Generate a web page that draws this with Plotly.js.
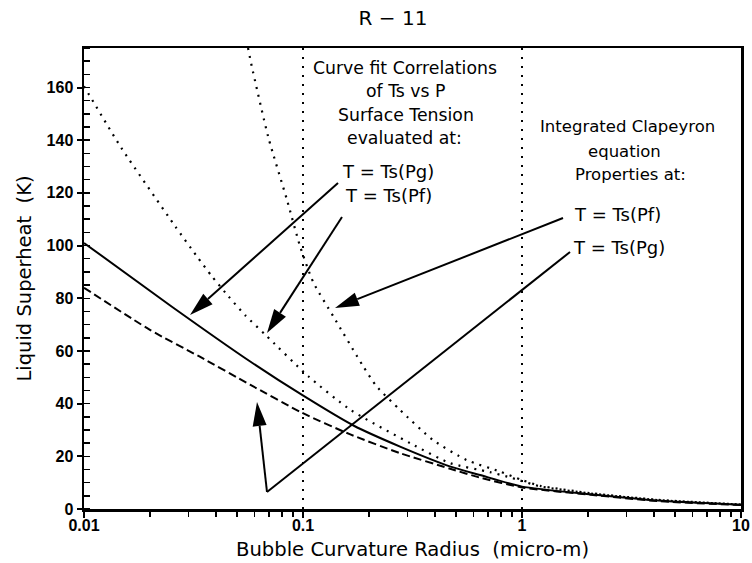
<!DOCTYPE html>
<html>
<head>
<meta charset="utf-8">
<script src="https://cdn.plot.ly/plotly-3.0.1.min.js"></script>
<style>html,body{margin:0;padding:0;background:#fff;}</style>
</head>
<body>
<div id="chart" style="width:752px;height:563px;"></div>
<script>
// ---- axis ticks ----
const xTickVals = [0.01, 0.1, 1, 10];
const xTickText = ['0.01', '0.1', '1', '10'];
const xMinorVals = [0.02,0.03,0.04,0.05,0.06,0.07,0.08,0.09,
                    0.2,0.3,0.4,0.5,0.6,0.7,0.8,0.9,
                    2,3,4,5,6,7,8,9];
const yTickVals = [0, 20, 40, 60, 80, 100, 120, 140, 160];
const yTickText = ['0', '20', '40', '60', '80', '100', '120', '140', '160'];

// ---- series ----
// Curve fit correlation, T = Ts(Pg)  (solid)
const fitPgX = [0.01, 0.0252, 0.0574, 0.099, 0.17, 0.2774, 0.472, 0.643, 1, 2.06, 4.16, 10];
const fitPgY = [101, 76.8, 56.0, 43.3, 31.7, 23.7, 16.1, 12.9, 8.5, 5.6, 3.2, 1.6];
// Curve fit correlation, T = Ts(Pf)  (dotted)
const fitPfX = [0.01, 0.0148, 0.0261, 0.0327, 0.0384, 0.0457, 0.0545, 0.0672, 0.106, 0.165, 0.31, 0.47, 0.714, 0.898, 1.21, 2.06, 4.16, 10];
const fitPfY = [160.5, 137.1, 107.3, 96.0, 88.3, 80.7, 73.5, 66.2, 50.3, 37.6, 24.9, 17.4, 14.0, 11.8, 8.6, 5.9, 3.4, 1.7];
// Integrated Clapeyron, T = Ts(Pf)  (steep dotted)
const clapPfX = [0.0561, 0.0583, 0.0695, 0.0844, 0.097, 0.1115, 0.1376, 0.1885, 0.2172, 0.2774, 0.392, 0.558, 0.795, 1.0, 1.21, 2.06, 4.16, 10];
const clapPfY = [175, 168.2, 141.0, 117.5, 99.7, 86.0, 73.1, 54.1, 46.5, 37.6, 26.2, 18.6, 14.2, 11.0, 8.8, 6.0, 3.5, 1.7];
// Integrated Clapeyron, T = Ts(Pg)  (dashed)
const clapPgX = [0.01, 0.02, 0.0338, 0.0573, 0.0986, 0.1634, 0.2774, 0.4696, 0.643, 1, 2.06, 4.16, 10];
const clapPgY = [84, 68.0, 57.8, 47.2, 36.6, 28.4, 21.2, 15.3, 11.9, 8.2, 5.4, 3.0, 1.5];

// ---- geometry helpers (layout only) ----
const FW = 752, FH = 563;
const M = {l: 84, r: 11, t: 48, b: 54};
const PW = FW - M.l - M.r, PH = FH - M.t - M.b;
const px2x = p => (p - M.l) / PW;
const py2y = p => (FH - M.b - p) / PH;

const TXT = 'DejaVu Sans';
function label(text, cx, cy, size) {
  return {text: text, x: px2x(cx), y: py2y(cy), xref: 'paper', yref: 'paper',
          xanchor: 'center', yanchor: 'middle', showarrow: false,
          font: {family: TXT, size: size || 16.5, color: '#000'}};
}
const shapes = [];
function seg(a, b) {
  shapes.push({type: 'line', xref: 'paper', yref: 'paper',
    x0: px2x(a[0]), y0: py2y(a[1]), x1: px2x(b[0]), y1: py2y(b[1]),
    line: {color: '#000', width: 2}});
}
function arrow(pts) {
  const n = pts.length;
  const tip = pts[n - 1], prev = pts[n - 2];
  const dx = tip[0] - prev[0], dy = tip[1] - prev[1];
  const L = Math.hypot(dx, dy), ux = dx / L, uy = dy / L;
  const hl = 24, hw = 7;
  const base = [tip[0] - ux * hl, tip[1] - uy * hl];
  for (let i = 0; i < n - 2; i++) seg(pts[i], pts[i + 1]);
  seg(prev, base);
  const c1 = [base[0] - uy * hw, base[1] + ux * hw];
  const c2 = [base[0] + uy * hw, base[1] - ux * hw];
  shapes.push({type: 'path', xref: 'paper', yref: 'paper',
    path: 'M' + px2x(tip[0]) + ',' + py2y(tip[1]) +
          'L' + px2x(c1[0]) + ',' + py2y(c1[1]) +
          'L' + px2x(c2[0]) + ',' + py2y(c2[1]) + 'Z',
    fillcolor: '#000', line: {width: 0}});
}
arrow([[338, 183], [190, 315]]);
arrow([[342, 217], [267, 333]]);
arrow([[563, 218], [335, 308]]);
arrow([[570, 252], [267, 492], [257, 402]]);

const annotations = [
  label('Curve fit Correlations', 405, 68, 17.3),
  label('of Ts vs P', 406, 91, 17.3),
  label('Surface Tension', 406, 115, 17.3),
  label('evaluated at:', 404, 138, 17.3),
  label('T = Ts(Pg)', 388, 171, 18),
  label('T = Ts(Pf)', 388, 195, 18),
  label('Integrated Clapeyron', 627, 127, 16.5),
  label('equation', 624, 151, 16.5),
  label('Properties at:', 630, 174, 16.5),
  label('T = Ts(Pf)', 617, 214, 18),
  label('T = Ts(Pg)', 619, 248, 18)
];

const traces = [
  {x: fitPgX, y: fitPgY, mode: 'lines', name: 'Curve fit, T = Ts(Pg)',
   line: {color: '#000', width: 2, shape: 'spline', smoothing: 0.6}},
  {x: fitPfX, y: fitPfY, mode: 'lines', name: 'Curve fit, T = Ts(Pf)',
   line: {color: '#000', width: 2.2, dash: '2px,6px', shape: 'spline', smoothing: 0.6}},
  {x: clapPfX, y: clapPfY, mode: 'lines', name: 'Clapeyron, T = Ts(Pf)',
   line: {color: '#000', width: 2.2, dash: '2px,6px', shape: 'spline', smoothing: 0.6}},
  {x: clapPgX, y: clapPgY, mode: 'lines', name: 'Clapeyron, T = Ts(Pg)',
   line: {color: '#000', width: 2, dash: '8px,4px', shape: 'spline', smoothing: 0.6}}
];

const tickFont = {family: 'Liberation Sans', size: 16, weight: 'bold', color: '#000'};
const layout = {
  width: FW, height: FH,
  margin: M,
  paper_bgcolor: '#fff', plot_bgcolor: '#fff',
  showlegend: false,
  title: {text: 'R − 11', x: 393 / FW, xref: 'container', xanchor: 'center',
          y: 1 - 18 / FH, yref: 'container', yanchor: 'middle',
          font: {family: TXT, size: 20, color: '#000'}},
  xaxis: {
    type: 'log', range: [-2, 1],
    showline: true, linecolor: '#000', linewidth: 2.5, mirror: true,
    tickmode: 'array', tickvals: xTickVals, ticktext: xTickText,
    ticks: 'outside', ticklen: 6, tickwidth: 2, tickcolor: '#000',
    ticklabelstandoff: -6,
    tickfont: tickFont,
    showgrid: true, gridcolor: '#000', gridwidth: 2, griddash: '2px,7px',
    minor: {tickmode: 'array', tickvals: xMinorVals, ticks: 'outside', ticklen: 5,
            tickwidth: 1.5, tickcolor: '#000', showgrid: false},
    zeroline: false,
    title: {text: 'Bubble Curvature Radius  (micro-m)', standoff: 10,
            font: {family: TXT, size: 19.6, color: '#000'}}
  },
  yaxis: {
    range: [0, 175],
    showline: true, linecolor: '#000', linewidth: 2.5, mirror: true,
    tickmode: 'array', tickvals: yTickVals, ticktext: yTickText,
    ticks: 'outside', ticklen: 5, tickwidth: 2, tickcolor: '#000',
    tickfont: tickFont,
    showgrid: false, zeroline: false,
    minor: {tickmode: 'linear', tick0: 0, dtick: 5, ticks: 'inside', ticklen: 6,
            tickwidth: 1.5, tickcolor: '#000', showgrid: false},
    title: {text: 'Liquid Superheat  (K)', standoff: 10,
            font: {family: TXT, size: 19.5, color: '#000'}}
  },
  annotations: annotations,
  shapes: shapes
};

Plotly.newPlot('chart', traces, layout, {displayModeBar: false, staticPlot: true});
</script>
</body>
</html>
